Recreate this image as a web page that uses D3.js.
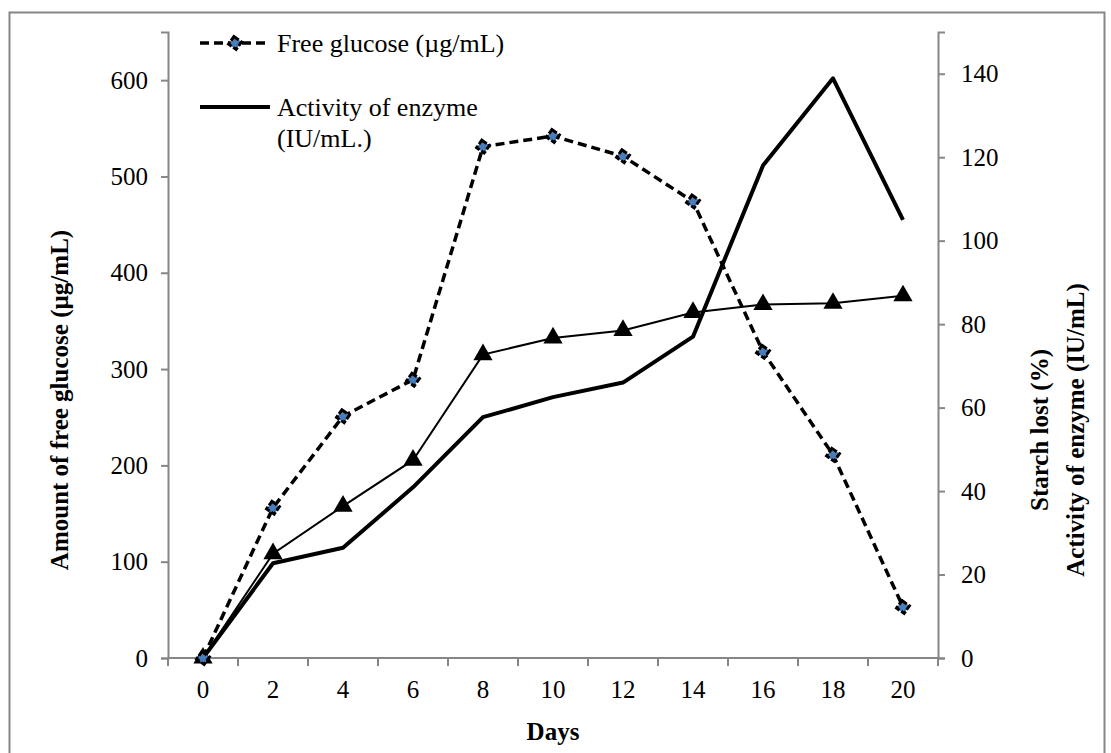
<!DOCTYPE html>
<html>
<head>
<meta charset="utf-8">
<script src="https://cdn.jsdelivr.net/npm/d3@7"></script>
<style>
  html, body { margin: 0; padding: 0; background: #fff; }
  svg { display: block; font-family: "Liberation Serif", "Times New Roman", serif; }
</style>
</head>
<body>
<svg id="chart" width="1111" height="753"></svg>
<script>
// Sampling days
const days = [0, 2, 4, 6, 8, 10, 12, 14, 16, 18, 20];
// Free glucose, µg/mL (left axis)
const freeGlucose = [0, 156, 251, 289, 531, 542, 521, 474, 318, 211, 53];
// Starch lost, % (right axis)
const starchLost = [0, 25, 36.4, 47.4, 72.7, 76.7, 78.5, 82.8, 84.7, 85, 86.8];
// Activity of enzyme, IU/mL (right axis)
const enzymeActivity = [0, 22.7, 26.4, 40.9, 57.7, 62.5, 66, 77, 118, 138.9, 105];
// Axis tick values
const leftTicks = [0, 100, 200, 300, 400, 500, 600];
const rightTicks = [0, 20, 40, 60, 80, 100, 120, 140];

const svg = d3.select("#chart");
const axisColor = "#868686";
const tickFont = 25;
const textFont = 26;

const plot = { left: 168, right: 938, top: 32, bottom: 658 };

const x = d3.scaleBand().domain(days).range([plot.left, plot.right]).padding(0);
const yLeft = d3.scaleLinear().domain([0, 650]).range([plot.bottom, plot.top]);
const yRight = d3.scaleLinear().domain([0, 150]).range([plot.bottom, plot.top]);
const cx = d => x(d) + x.bandwidth() / 2;

// Outer chart frame
svg.append("rect")
  .attr("x", 9.5).attr("y", 12.5)
  .attr("width", 1095).attr("height", 760)
  .attr("fill", "none").attr("stroke", axisColor).attr("stroke-width", 2);

// Left axis
const gl = svg.append("g").attr("transform", `translate(${plot.left},0)`)
  .call(d3.axisLeft(yLeft).tickValues(leftTicks).tickSize(7).tickPadding(13));
// Right axis
const gr = svg.append("g").attr("transform", `translate(${plot.right},0)`)
  .call(d3.axisRight(yRight).tickValues(rightTicks).tickSize(7).tickPadding(16));
// Bottom axis: labels at category centres, tick marks at category boundaries
const gb = svg.append("g").attr("transform", `translate(0,${plot.bottom})`)
  .call(d3.axisBottom(x).tickSize(0).tickPadding(22));
const boundaries = days.map(d => x(d)).concat([x(days[days.length - 1]) + x.bandwidth()]);
gb.selectAll("line.bound").data(boundaries).enter().append("line")
  .attr("class", "bound")
  .attr("x1", d => d).attr("x2", d => d)
  .attr("y1", 0).attr("y2", 8)
  .attr("stroke", axisColor).attr("stroke-width", 2);

[gl, gr, gb].forEach(g => {
  g.select(".domain").attr("stroke", axisColor).attr("stroke-width", 2);
  g.selectAll(".tick line").attr("stroke", axisColor).attr("stroke-width", 2);
  g.selectAll(".tick text").attr("fill", "#000")
    .style("font-family", "'Liberation Serif', serif").style("font-size", tickFont + "px");
});
// Keep the bottom axis line flush with the vertical axes
gb.select(".domain").attr("d", `M${plot.left},0H${plot.right}`);

// Series lines
const lineOf = (vals, yScale) => d3.line()
  .x((d, i) => cx(days[i]))
  .y(d => yScale(d))(vals);

// Enzyme activity: thick solid line
svg.append("path")
  .attr("d", lineOf(enzymeActivity, yRight))
  .attr("fill", "none").attr("stroke", "#000").attr("stroke-width", 4)
  .attr("stroke-linejoin", "round");

// Starch lost: thin line with triangles
svg.append("path")
  .attr("d", lineOf(starchLost, yRight))
  .attr("fill", "none").attr("stroke", "#000").attr("stroke-width", 2);
svg.selectAll("path.tri").data(starchLost).enter().append("path")
  .attr("class", "tri")
  .attr("d", d3.symbol().type(d3.symbolTriangle).size(160))
  .attr("transform", (d, i) => `translate(${cx(days[i])},${yRight(d)})`)
  .attr("fill", "#000");

// Free glucose: dashed line with diamond markers
const diamond = d3.symbol().type(d3.symbolSquare).size(85);
svg.append("path")
  .attr("d", lineOf(freeGlucose, yLeft))
  .attr("fill", "none").attr("stroke", "#000").attr("stroke-width", 3.5)
  .attr("stroke-dasharray", "9,5");
svg.selectAll("path.dia").data(freeGlucose).enter().append("path")
  .attr("class", "dia")
  .attr("d", diamond)
  .attr("transform", (d, i) => `translate(${cx(days[i])},${yLeft(d)}) rotate(35)`)
  .attr("fill", "#4a7ebb").attr("stroke", "#000").attr("stroke-width", 3)
  .attr("stroke-dasharray", "6,2");

// Legend
const legend = svg.append("g");
legend.append("line").attr("x1", 200).attr("x2", 270).attr("y1", 43).attr("y2", 43)
  .attr("stroke", "#000").attr("stroke-width", 3.5).attr("stroke-dasharray", "9,5");
legend.append("path")
  .attr("d", diamond)
  .attr("transform", "translate(235,43) rotate(35)")
  .attr("fill", "#4a7ebb").attr("stroke", "#000").attr("stroke-width", 3)
  .attr("stroke-dasharray", "6,2");
legend.append("text").attr("x", 277).attr("y", 52)
  .style("font-size", textFont + "px").text("Free glucose (µg/mL)");
legend.append("line").attr("x1", 200).attr("x2", 270).attr("y1", 107).attr("y2", 107)
  .attr("stroke", "#000").attr("stroke-width", 4);
const lt = legend.append("text").attr("x", 277).attr("y", 116).style("font-size", textFont + "px");
lt.append("tspan").attr("x", 277).text("Activity of enzyme");
lt.append("tspan").attr("x", 277).attr("dy", 31).text("(IU/mL.)");

// Axis titles
svg.append("text")
  .attr("x", (plot.left + plot.right) / 2).attr("y", 740)
  .attr("text-anchor", "middle").style("font-weight", "bold").style("font-size", tickFont + "px")
  .text("Days");
svg.append("text")
  .attr("transform", "translate(68,400) rotate(-90)")
  .attr("text-anchor", "middle").style("font-weight", "bold").style("font-size", tickFont + "px")
  .text("Amount of free glucose (µg/mL)");
const rt = svg.append("text")
  .attr("transform", "translate(1048,430) rotate(-90)")
  .attr("text-anchor", "middle").style("font-weight", "bold").style("font-size", tickFont + "px");
rt.append("tspan").attr("x", 0).attr("y", 0).text("Starch lost (%)");
rt.append("tspan").attr("x", 0).attr("y", 36).text("Activity of enzyme (IU/mL)");
</script>
</body>
</html>
